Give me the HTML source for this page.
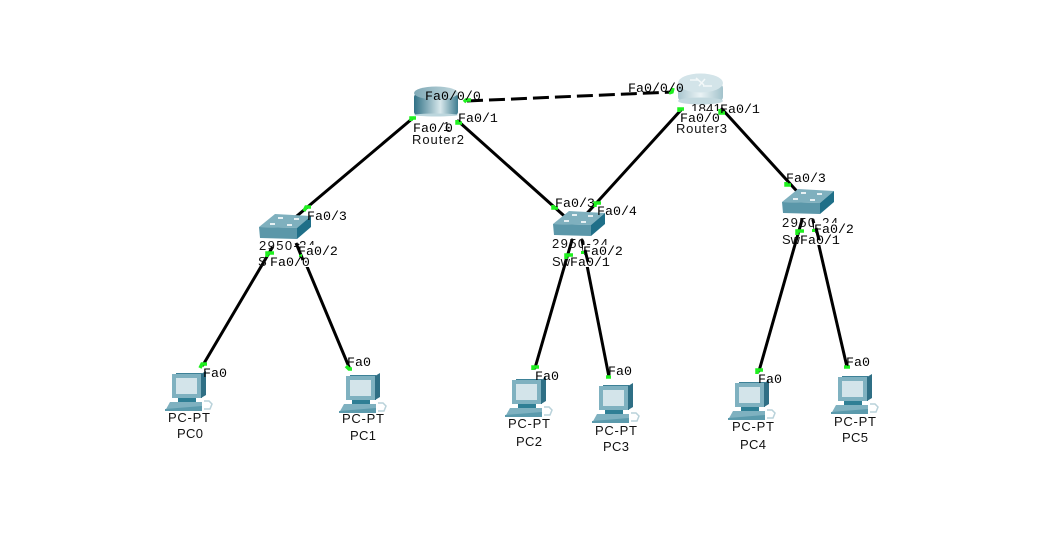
<!DOCTYPE html>
<html><head><meta charset="utf-8"><style>
html,body{margin:0;padding:0;background:#fff;width:1053px;height:548px;overflow:hidden}
svg{display:block}
.m{font:13.3px "Liberation Mono",monospace;fill:#000}
.s{font:13px "Liberation Sans",sans-serif;fill:#111}
</style></head><body>
<svg width="1053" height="548" viewBox="0 0 1053 548" xmlns="http://www.w3.org/2000/svg">
<defs>
<linearGradient id="rg" x1="0" x2="1" y1="0" y2="0"><stop offset="0" stop-color="#2f7085"/><stop offset=".6" stop-color="#d8e8ec"/><stop offset="1" stop-color="#3f7d90"/></linearGradient>
<linearGradient id="rt" x1="0" x2="1" y1="0" y2="0"><stop offset="0" stop-color="#7fa9b6"/><stop offset="1" stop-color="#c2d8de"/></linearGradient>
<linearGradient id="rw" x1="0" x2="1" y1="0" y2="0"><stop offset="0" stop-color="#a9c6cf"/><stop offset=".5" stop-color="#eaf3f5"/><stop offset="1" stop-color="#a2c2cb"/></linearGradient>
<g id="sw">
<polygon points="0,0 16,-13 52,-11 38,1" fill="#7fb0be"/>
<polygon points="0,0 38,1 38,12 1,11" fill="#5b97a9"/>
<polygon points="38,1 52,-11 52,0 38,12" fill="#1f6f88"/>
<g fill="#e6f0f3"><rect x="11" y="-4" width="5" height="2"/><rect x="28" y="-3" width="5" height="2"/><rect x="19" y="-10" width="5" height="2"/><rect x="35" y="-9" width="5" height="2"/></g>
</g>
<g id="pc">
<polygon points="6,-1 32,-1 32,24 6,24" fill="#3d8197"/>
<rect x="2" y="0" width="29" height="24" fill="#7fb1c0"/>
<rect x="6" y="4" width="21" height="16" fill="#d3e4ea"/>
<polygon points="31,0 36,-3 36,21 31,24" fill="#2f6f85"/>
<rect x="8" y="24" width="18" height="4" fill="#2f7f95"/>
<polygon points="0,28 32,28 32,33 -4,37 -5,37" fill="#7fb1c0"/>
<polygon points="-5,35 32,32 32,37 -5,37" fill="#5b9aac"/>
<path d="M34 27h5l3 3-2 5h-6" fill="none" stroke="#b9d2da" stroke-width="1.5"/>
</g>
</defs>

<g stroke="#000" stroke-width="3" fill="none" stroke-linecap="round">
<path d="M467 101 L672 92" stroke-dasharray="16 6" stroke-linecap="butt"/>
<path d="M413 118 L285 226"/>
<path d="M458 121 L571 222"/>
<path d="M681 110 L580 221"/>
<path d="M722 109 L804 199"/>
<path d="M272 248 L203 365"/>
<path d="M298 245 L349 367"/>
<path d="M572 240 L535 368"/>
<path d="M582 240 L609 377"/>
<path d="M802 220 L759 371"/>
<path d="M813 220 L847 367"/>
</g>

<!-- Router2 -->
<rect x="414" y="94" width="44" height="21" rx="3" fill="url(#rg)"/>
<ellipse cx="436" cy="115" rx="22" ry="1.5" fill="#bcd6dd"/>
<ellipse cx="436" cy="93" rx="22" ry="6.5" fill="url(#rt)"/>
<!-- Router3 -->
<rect x="678" y="84" width="45" height="17" rx="4" fill="url(#rw)"/>
<ellipse cx="700.5" cy="101" rx="22.5" ry="3.5" fill="#c3d9df"/>
<ellipse cx="700.5" cy="83" rx="22.5" ry="9.5" fill="#d3e4e9"/>
<path d="M690 80h8M703 86h9M696 78l8 7M705 79l-6 7" stroke="#f3f8f9" stroke-width="1.5" fill="none"/>

<use href="#sw" x="259" y="227"/>
<use href="#sw" x="553" y="224"/>
<use href="#sw" x="782" y="202"/>

<use href="#pc" x="170" y="374"/>
<use href="#pc" x="344" y="376"/>
<use href="#pc" x="510" y="380"/>
<use href="#pc" x="597" y="386"/>
<use href="#pc" x="733" y="383"/>
<use href="#pc" x="836" y="377"/>

<!-- hostname and model labels -->
<g class="s">
<text x="691" y="113" textLength="30" lengthAdjust="spacingAndGlyphs">1841</text>
<text x="443" y="131">1</text>
<text x="259" y="250" textLength="56" lengthAdjust="spacing">2950-24</text>
<text x="552" y="248" textLength="56" lengthAdjust="spacing">2950-24</text>
<text x="782" y="227" textLength="56" lengthAdjust="spacing">2950-24</text>
<text x="258" y="266">S</text>
<text x="552" y="266">Sw</text>
<text x="782" y="244">Sw</text>
</g>

<!-- white label backings -->
<g fill="#fff">
<rect x="298" y="245" width="42" height="11"/>
<rect x="583" y="245" width="42" height="11"/>
<rect x="814" y="223" width="42" height="11"/>
<rect x="270" y="255" width="42" height="12"/>
<rect x="570" y="255" width="42" height="12"/>
<rect x="800" y="233" width="42" height="12"/>
<rect x="684" y="111" width="36" height="12"/>
</g>
<g stroke="#000" stroke-width="3" fill="none">
<path d="M296 243 L303 260"/><path d="M585 250 L588 262"/><path d="M816 228 L819 240"/>
</g>

<g class="s">
<text x="412" y="144" textLength="52" lengthAdjust="spacing">Router2</text>
<text x="676" y="133" textLength="51" lengthAdjust="spacing">Router3</text>
<text x="168" y="422" textLength="42" lengthAdjust="spacing">PC-PT</text>
<text x="177" y="438" textLength="26" lengthAdjust="spacing">PC0</text>
<text x="342" y="423" textLength="42" lengthAdjust="spacing">PC-PT</text>
<text x="350" y="440" textLength="26" lengthAdjust="spacing">PC1</text>
<text x="508" y="428" textLength="42" lengthAdjust="spacing">PC-PT</text>
<text x="516" y="446" textLength="26" lengthAdjust="spacing">PC2</text>
<text x="595" y="435" textLength="42" lengthAdjust="spacing">PC-PT</text>
<text x="603" y="451" textLength="26" lengthAdjust="spacing">PC3</text>
<text x="732" y="431" textLength="42" lengthAdjust="spacing">PC-PT</text>
<text x="740" y="449" textLength="26" lengthAdjust="spacing">PC4</text>
<text x="834" y="426" textLength="42" lengthAdjust="spacing">PC-PT</text>
<text x="842" y="442" textLength="26" lengthAdjust="spacing">PC5</text>
</g>

<!-- link lights -->
<g stroke="#1ff01f" stroke-width="3.5" fill="none">
<path d="M464 102 L466 100 H471"/>
<path d="M669 93 L672 92 L673 88"/>
<path d="M411 121 V118 H416"/>
<path d="M457 120 V123 H462"/>
<path d="M679 112 V109 H684"/>
<path d="M720 109 V113 H725"/>
<path d="M304 211 L306 207 H311"/>
<path d="M267 257 V253 H274"/>
<path d="M553 205 V208 H558"/>
<path d="M595 207 V203 H601"/>
<path d="M566 259 V255 H573"/>
<path d="M786 182 V185 H791"/>
<path d="M797 235 V231 H804"/>
<path d="M200 368 L202 364 H207"/>
<path d="M346 366 L349 369 H352"/>
<path d="M533 370 V367 H539"/>
<path d="M606 377 H611"/>
<path d="M757 374 V370 H763"/>
<path d="M844 367 H850"/>
</g>
<rect x="299" y="254" width="3" height="3" fill="#1ff01f"/>
<rect x="581" y="251" width="3" height="3" fill="#1ff01f"/>
<rect x="812" y="229" width="3" height="3" fill="#1ff01f"/>

<!-- port labels -->
<g class="m">
<text x="425" y="100">Fa0/0/0</text>
<text x="628" y="92">Fa0/0/0</text>
<text x="458" y="122">Fa0/1</text>
<text x="413" y="132">Fa0/0</text>
<text x="680" y="122">Fa0/0</text>
<text x="720" y="113">Fa0/1</text>
<text x="307" y="220">Fa0/3</text>
<text x="298" y="255">Fa0/2</text>
<text x="270" y="266">Fa0/0</text>
<text x="555" y="207">Fa0/3</text>
<text x="597" y="215">Fa0/4</text>
<text x="583" y="255">Fa0/2</text>
<text x="570" y="266">Fa0/1</text>
<text x="786" y="182">Fa0/3</text>
<text x="814" y="233">Fa0/2</text>
<text x="800" y="244">Fa0/1</text>
<text x="203" y="377">Fa0</text>
<text x="347" y="366">Fa0</text>
<text x="535" y="380">Fa0</text>
<text x="608" y="375">Fa0</text>
<text x="758" y="383">Fa0</text>
<text x="846" y="366">Fa0</text>
</g>
</svg>
</body></html>
